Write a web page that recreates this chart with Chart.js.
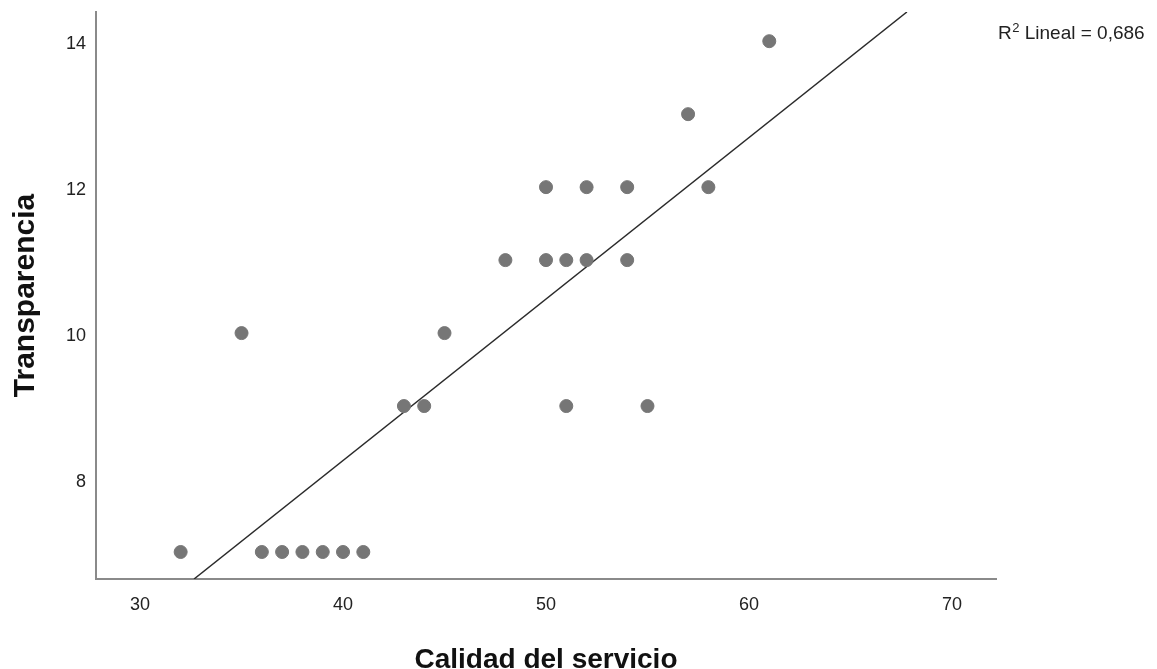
<!DOCTYPE html>
<html>
<head>
<meta charset="utf-8">
<script src="https://cdn.jsdelivr.net/npm/chart.js@4.4.1/dist/chart.umd.min.js"></script>
<style>
  body { margin: 0; background: #fff; }
</style>
</head>
<body>
<canvas id="chart" width="1157" height="669"></canvas>
<script>
// datos
var calidad = [32, 35, 36, 37, 38, 39, 40, 41, 43, 44, 45, 48, 50, 50, 51, 51, 52, 52, 54, 54, 55, 57, 58, 61];
var transparencia = [7, 10, 7, 7, 7, 7, 7, 7, 9, 9, 10, 11, 12, 11, 11, 9, 12, 11, 12, 11, 9, 13, 12, 14];
// recta de ajuste (extremos)
var ajusteX = [32.66, 67.78];
var ajusteY = [6.63, 14.4];
var xTicks = [30, 40, 50, 60, 70];
var yTicks = [8, 10, 12, 14];
var r2Texto = ' Lineal = 0,686';

var fuente = '"Liberation Sans", Arial, sans-serif';

var puntos = [];
for (var i = 0; i < calidad.length; i++) {
	puntos.push({ x: calidad[i], y: transparencia[i] });
}
var recta = [];
for (var k = 0; k < ajusteX.length; k++) {
	recta.push({ x: ajusteX[k], y: ajusteY[k] });
}

var etiquetaR2 = {
	id: 'etiquetaR2',
	afterDraw: function (chart) {
		var ctx = chart.ctx;
		ctx.save();
		ctx.fillStyle = '#222';
		ctx.textBaseline = 'alphabetic';
		ctx.font = '19px ' + fuente;
		var x = 998, y = 39;
		ctx.fillText('R', x, y);
		x += ctx.measureText('R').width;
		ctx.font = '13px ' + fuente;
		ctx.fillText('2', x + 0.5, y - 7);
		x += ctx.measureText('2').width + 0.5;
		ctx.font = '19px ' + fuente;
		ctx.fillText(r2Texto, x, y);
		ctx.restore();
	}
};

var ctx = document.getElementById('chart').getContext('2d');
var chart = new Chart(ctx, {
	type: 'scatter',
	data: {
		datasets: [{
				label: 'Transparencia',
				data: puntos,
				backgroundColor: '#767676',
				borderColor: '#767676',
				pointRadius: 6.5,
				pointHoverRadius: 6.5
			},
			{
				label: 'Lineal',
				data: recta,
				showLine: true,
				borderColor: '#2b2b2b',
				borderWidth: 1.5,
				pointRadius: 0,
				fill: false
			}
		]
	},
	plugins: [etiquetaR2],
	options: {
		responsive: false,
		animation: false,
		layout: {
			padding: { top: 12, right: 161, bottom: 0, left: 0 }
		},
		plugins: {
			legend: { display: false },
			tooltip: { enabled: false }
		},
		scales: {
			x: {
				type: 'linear',
				min: 27.83,
				max: 72.17,
				afterBuildTicks: function (scale) {
					scale.ticks = xTicks.map(function (v) { return { value: v }; });
				},
				afterFit: function (scale) {
					scale.height = 90;
					scale.paddingLeft = 0;
					scale.paddingRight = 0;
				},
				grid: { display: false, drawTicks: false },
				border: { display: true, color: '#8a8a8a', width: 2 },
				ticks: {
					padding: 15,
					color: '#222',
					font: { family: fuente, size: 18 }
				},
				title: {
					display: true,
					text: 'Calidad del servicio',
					color: '#111',
					padding: { top: 0, bottom: -8 },
					font: { family: fuente, size: 28, weight: 'bold' }
				}
			},
			y: {
				type: 'linear',
				min: 6.63,
				max: 14.4,
				afterBuildTicks: function (scale) {
					scale.ticks = yTicks.map(function (v) { return { value: v }; });
				},
				afterFit: function (scale) {
					scale.width = 96;
					scale.paddingTop = 0;
					scale.paddingBottom = 0;
				},
				grid: { display: false, drawTicks: false },
				border: { display: true, color: '#8a8a8a', width: 2 },
				ticks: {
					padding: 10,
					labelOffset: 3,
					color: '#222',
					font: { family: fuente, size: 18 }
				},
				title: {
					display: true,
					text: 'Transparencia',
					color: '#111',
					padding: { top: 8, bottom: 0 },
					font: { family: fuente, size: 30, weight: 'bold' }
				}
			}
		}
	}
});
</script>
</body>
</html>
